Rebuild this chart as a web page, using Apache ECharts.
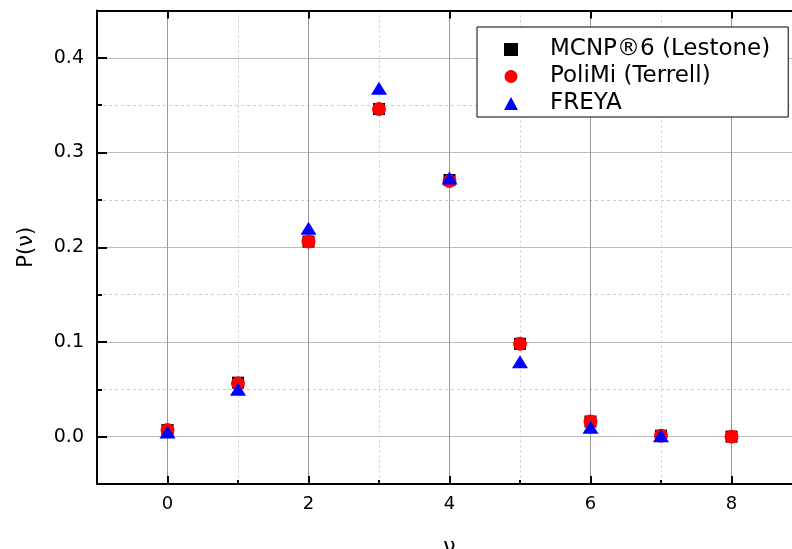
<!DOCTYPE html>
<html>
<head>
<meta charset="utf-8">
<script src="https://cdn.jsdelivr.net/npm/echarts@6/dist/echarts.min.js"></script>
<style>
html, body { margin: 0; padding: 0; background: #fff; }
#chart { width: 792px; height: 549px; }
</style>
</head>
<body>
<div id="chart"></div>
<script>
// nu values and P(nu) per model
var nu = [0, 1, 2, 3, 4, 5, 6, 7, 8];
var mcnp = [0.007, 0.057, 0.206, 0.346, 0.271, 0.098, 0.016, 0.001, 0.000];
var polimi = [0.007, 0.056, 0.206, 0.346, 0.270, 0.098, 0.016, 0.001, 0.000];
var freya = [0.005, 0.050, 0.220, 0.368, 0.273, 0.079, 0.010, 0.001];

var xMajor = [0, 2, 4, 6, 8];
var xMinor = [1, 3, 5, 7];
var yMajor = [0, 0.1, 0.2, 0.3, 0.4];
var yMinor = [0.05, 0.15, 0.25, 0.35];

function pairs(ys) {
	var out = [];
	for (var i = 0; i < ys.length; i++) {
		out.push([nu[i], ys[i]]);
	}
	return out;
}

var tickStyle = { color : '#000', width : 2 };

// grid-only axis: draws split lines, nothing else
function gridAxis(pos, min, max, ticks, color, type) {
	return {
		type : 'value',
		position : pos,
		min : min,
		max : max,
		z : 0,
		axisLine : { show : false, onZero : false },
		axisTick : { show : false, customValues : ticks },
		axisLabel : { show : false },
		splitLine : { show : true, lineStyle : { color : color, width : 1, type : type } }
	};
}

// tick-only axis, ticks pointing into the plot
function tickAxis(pos, min, max, ticks, len) {
	return {
		type : 'value',
		position : pos,
		min : min,
		max : max,
		z : 3,
		axisLine : { show : false, onZero : false },
		axisTick : { show : true, inside : true, length : len, customValues : ticks, lineStyle : tickStyle },
		axisLabel : { show : false },
		splitLine : { show : false }
	};
}

// frame line only
function lineAxis(pos, min, max) {
	return {
		type : 'value',
		position : pos,
		min : min,
		max : max,
		z : 4,
		axisLine : { show : true, onZero : false, lineStyle : tickStyle },
		axisTick : { show : false },
		axisLabel : { show : false },
		splitLine : { show : false }
	};
}

var myChart = echarts.init(document.getElementById('chart'));
var font = 'DejaVu Sans, sans-serif';

option = {
	backgroundColor : '#fff',
	animation : false,
	textStyle : { fontFamily : font },
	grid : {
		left : 97,
		top : 10.5,
		bottom : 65,
		right : -10,
		outerBoundsMode : 'none'
	},
	legend : {
		orient : 'vertical',
		left : 477,
		top : 27,
		z : 10,
		borderColor : '#000',
		borderWidth : 1,
		backgroundColor : '#fff',
		padding : [ 11, 18, 2, 27 ],
		itemWidth : 14,
		itemHeight : 13,
		itemGap : 4,
		textStyle : {
			color : '#000',
			fontSize : 23,
			fontFamily : font,
			padding : [ 0, 0, 0, 27 ]
		},
		data : [
			{ name : 'MCNP®6 (Lestone)', icon : 'rect' },
			{ name : 'PoliMi (Terrell)', icon : 'circle' },
			{ name : 'FREYA', icon : 'triangle' }
		]
	},
	xAxis : [
		{
			type : 'value',
			position : 'bottom',
			min : -1,
			max : 9,
			z : 3,
			name : 'ν',
			nameLocation : 'middle',
			nameGap : 52,
			nameMoveOverlap : false,
			nameTextStyle : { color : '#000', fontSize : 22, fontFamily : font },
			axisLine : { show : false, onZero : false },
			axisTick : { show : false, customValues : xMajor },
			axisLabel : { customValues : xMajor, color : '#000', fontSize : 18, margin : 11 },
			splitLine : { show : false }
		},
		gridAxis('bottom', -1, 9, xMajor, '#999', 'solid'),
		gridAxis('bottom', -1, 9, xMinor, '#ccc', [ 2, 3 ]),
		tickAxis('bottom', -1, 9, xMajor, 8),
		tickAxis('bottom', -1, 9, xMinor, 4),
		tickAxis('top', -1, 9, xMajor, 8),
		lineAxis('bottom', -1, 9),
		lineAxis('top', -1, 9)
	],
	yAxis : [
		{
			type : 'value',
			position : 'left',
			min : -0.05,
			max : 0.45,
			z : 3,
			name : 'P(ν)',
			nameLocation : 'middle',
			nameGap : 60,
			nameMoveOverlap : false,
			nameTextStyle : { color : '#000', fontSize : 21, fontFamily : font },
			axisLine : { show : false, onZero : false },
			axisTick : { show : false, customValues : yMajor },
			axisLabel : {
				customValues : yMajor,
				color : '#000',
				fontSize : 19,
				margin : 13,
				formatter : function(v) { return v.toFixed(1); }
			},
			splitLine : { show : false }
		},
		gridAxis('left', -0.05, 0.45, yMajor, '#bbb', 'solid'),
		gridAxis('left', -0.05, 0.45, yMinor, '#ccc', [ 3, 3 ]),
		tickAxis('left', -0.05, 0.45, yMajor, 10),
		tickAxis('left', -0.05, 0.45, yMinor, 5),
		lineAxis('left', -0.05, 0.45)
	],
	series : [ {
		name : 'MCNP®6 (Lestone)',
		type : 'scatter',
		symbol : 'rect',
		symbolSize : 12,
		itemStyle : { color : '#000', opacity : 1 },
		data : pairs(mcnp)
	}, {
		name : 'PoliMi (Terrell)',
		type : 'scatter',
		symbol : 'circle',
		symbolSize : 14,
		itemStyle : { color : '#ff0000', opacity : 1 },
		data : pairs(polimi)
	}, {
		name : 'FREYA',
		type : 'scatter',
		symbol : 'triangle',
		symbolSize : [ 16, 13 ],
		itemStyle : { color : '#0000ff', opacity : 1 },
		data : pairs(freya)
	} ]
};
myChart.setOption(option);
</script>
</body>
</html>
